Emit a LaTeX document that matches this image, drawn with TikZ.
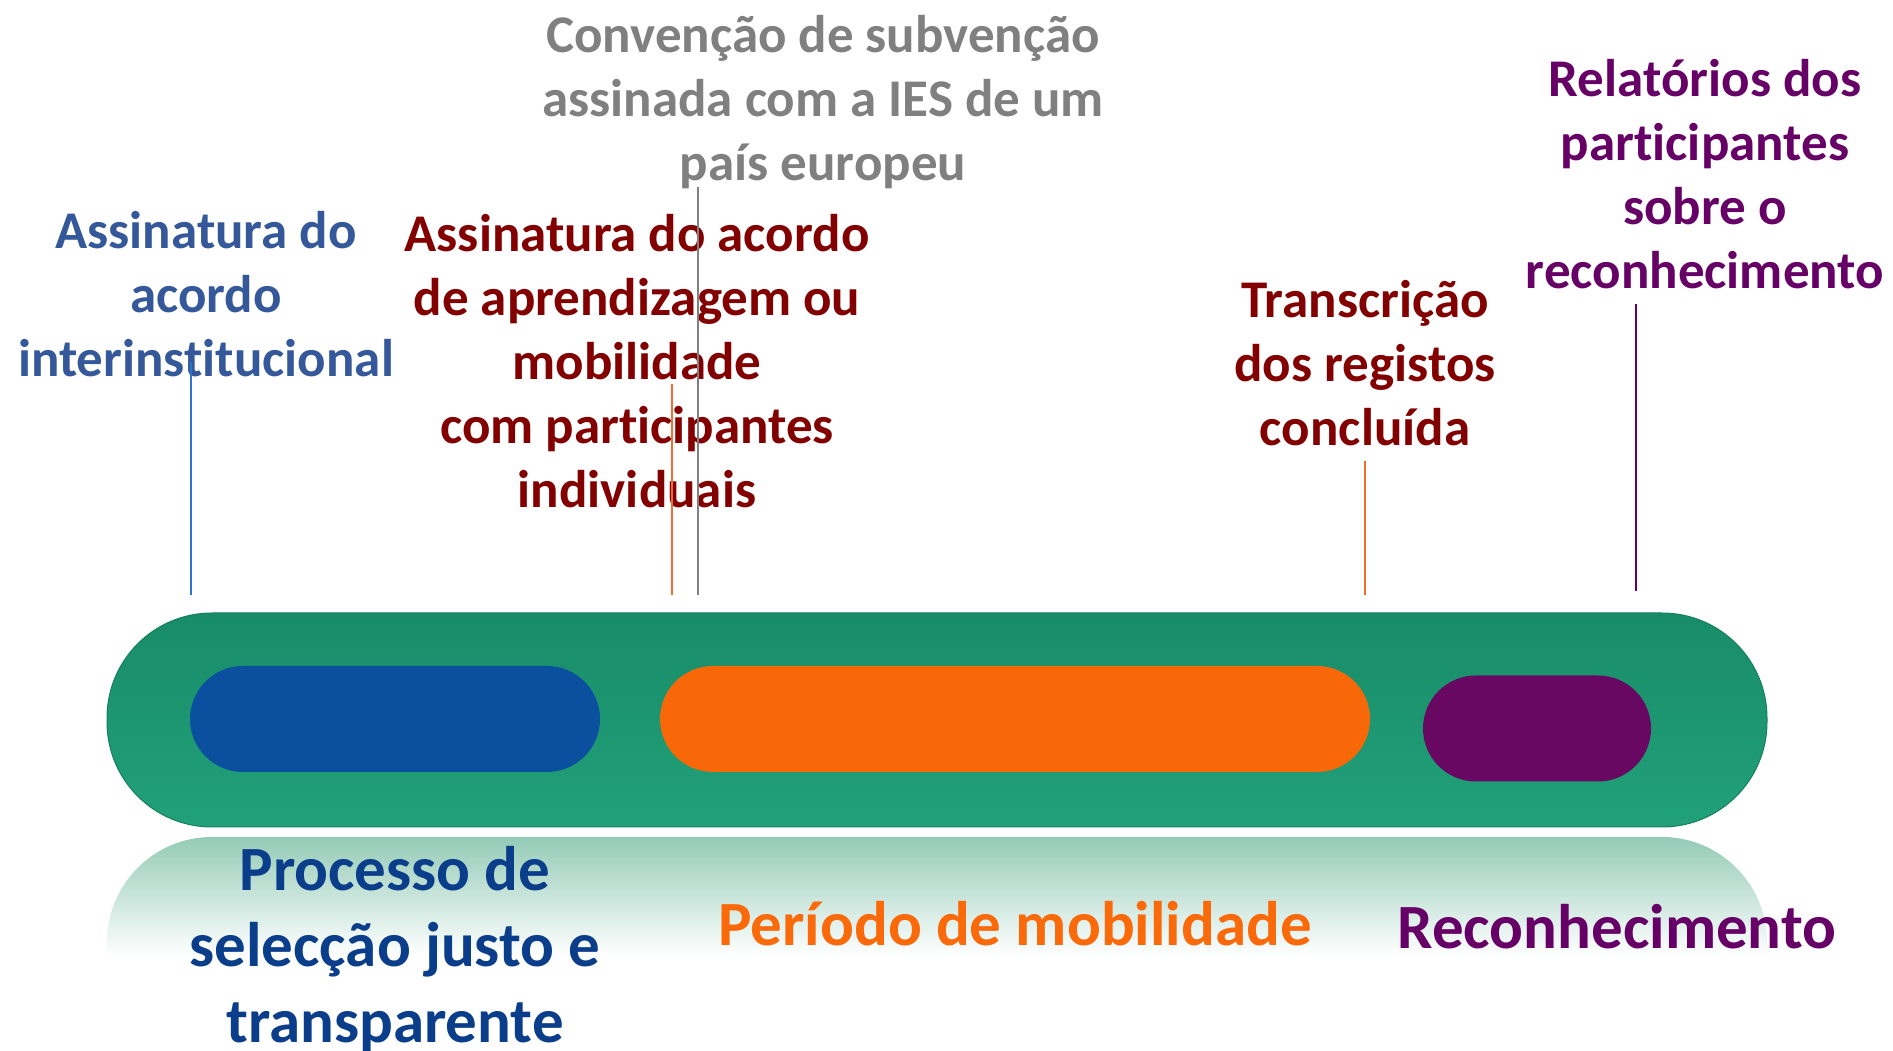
\documentclass[tikz,border=0pt]{standalone}
\usepackage{fontspec}
\setmainfont{Carlito}[Ligatures=NoCommon]
\usetikzlibrary{positioning}
\definecolor{barTop}{RGB}{24,140,104}
\definecolor{barBottom}{RGB}{33,161,121}
\definecolor{barEdge}{RGB}{22,128,94}
\definecolor{glowGreen}{RGB}{148,203,183}
\definecolor{selBlue}{RGB}{11,80,159}
\definecolor{mobOrange}{RGB}{248,104,8}
\definecolor{recPurple}{RGB}{104,8,98}
\definecolor{lblBlue}{RGB}{52,88,154}
\definecolor{lblRed}{RGB}{130,0,0}
\definecolor{lblGrey}{RGB}{128,128,128}
\definecolor{lblPurple}{RGB}{102,0,102}
\definecolor{phBlue}{RGB}{10,61,138}
\definecolor{phOrange}{RGB}{250,106,10}
\definecolor{tickBlue}{RGB}{46,117,198}
\definecolor{tickOrange}{RGB}{237,110,49}
\tikzstyle{pill} = [rounded corners=53pt, minimum height=106pt, inner sep=0pt]
\tikzstyle{event} = [align=center, inner sep=0pt, font=\bfseries\fontsize{53}{64}\selectfont]
\tikzstyle{phase} = [align=center, inner sep=0pt, font=\bfseries\fontsize{63}{76}\selectfont]
\tikzstyle{tick} = [line width=2pt]

\begin{document}
\begin{tikzpicture}[x=1pt,y=1pt]
\useasboundingbox (0,0) rectangle (1893,1051);
\shade[top color=glowGreen, bottom color=white] (107,95) -- (107,109) arc[start angle=180, end angle=90, radius=105pt] -- (1662,214) arc[start angle=90, end angle=0, radius=105pt] -- (1767,95) -- cycle;
\node[rounded corners=105pt, minimum width=1660pt, minimum height=214pt, inner sep=0pt, top color=barTop, bottom color=barBottom, draw=barEdge, line width=1pt] (bar) at (937,331) {};
\node[pill, fill=selBlue, minimum width=410pt] (sel) at (395,332) {};
\node[pill, fill=mobOrange, minimum width=710pt] (mob) at (1015,332) {};
\node[pill, fill=recPurple, minimum width=228pt] (rec) at (1537,322.5) {};
\node[event, text=lblBlue] (iia) at (206,757) {Assinatura do\\acordo\\interinstitucional};
\node[event, text=lblRed] (la) at (637,690) {Assinatura do acordo\\de aprendizagem ou\\mobilidade\\com participantes\\individuais};
\node[event, text=lblGrey] (grant) at (823,949) {Convenção de subvenção\\assinada com a IES de um\\país europeu};
\node[event, text=lblRed] (tor) at (1365,688) {Transcrição\\dos registos\\concluída};
\node[event, text=lblPurple] (rep) at (1705,877) {Relatórios dos\\participantes\\sobre o\\reconhecimento};
\node[phase, text=phBlue] (selTxt) at (395,102) {Processo de\\selecção justo e\\transparente};
\node[phase, text=phOrange] (mobTxt) at (1015,127) {Período de mobilidade};
\node[phase, text=lblPurple] (recTxt) at (1617,124) {Reconhecimento};
\coordinate (iiaTop) at (191,689);
\coordinate (iiaBot) at (191,456);
\coordinate (laTop) at (672,667);
\coordinate (laBot) at (672,456);
\coordinate (grantTop) at (698,864);
\coordinate (grantBot) at (698,456);
\coordinate (torTop) at (1365,590);
\coordinate (torBot) at (1365,456);
\coordinate (repTop) at (1636,747);
\coordinate (repBot) at (1636,460);
\draw[tick, tickBlue] (iiaTop) -- (iiaBot);
\draw[tick, tickOrange] (laTop) -- (laBot);
\draw[tick, lblGrey] (grantTop) -- (grantBot);
\draw[tick, tickOrange] (torTop) -- (torBot);
\draw[tick, lblPurple] (repTop) -- (repBot);
\end{tikzpicture}
\end{document}
